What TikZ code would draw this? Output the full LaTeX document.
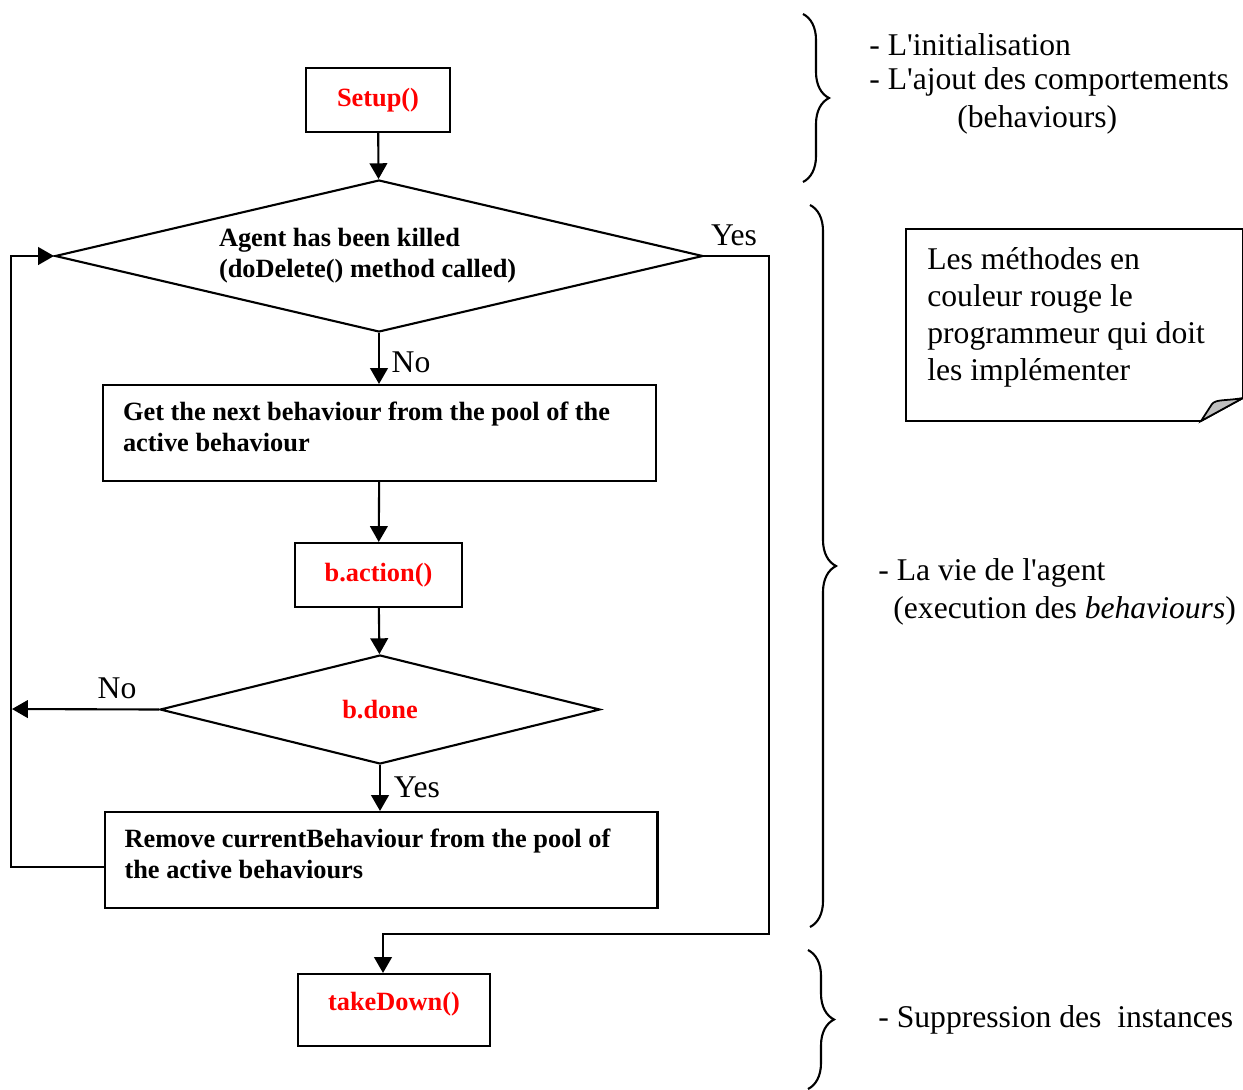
\documentclass[tikz,border=0pt]{standalone}
\usepackage{fontspec}
\setmainfont{Liberation Serif}
\usetikzlibrary{shapes.geometric,arrows.meta,decorations.pathreplacing}

\begin{document}
\begin{tikzpicture}[x=0.02cm,y=-0.02cm,
box/.style={rectangle, draw=black, line width=1.2pt, inner sep=0pt, font=\fontsize{15}{17.6}\selectfont\bfseries},
wbox/.style={box, inner xsep=0.4cm, align=flush left, text width=10.26cm, text depth=0.86cm, minimum height=1.92cm},
dec/.style={diamond, draw=black, line width=1.2pt, inner sep=0pt, font=\fontsize{15}{17.6}\selectfont\bfseries},
meth/.style={text=red},
arr/.style={line width=1.2pt, -{Triangle[length=9pt,width=10pt]}},
lbl/.style={inner sep=0pt, font=\fontsize{18}{21}\selectfont},
brc/.style={decorate, decoration={brace,amplitude=0.52cm}, line width=1.2pt}
]
    \useasboundingbox (0,0) rectangle (1243,1089);

    % flowchart
    \node [box,meth,minimum width=2.88cm,minimum height=1.28cm] (setup) at (378,100) {Setup()};
    \node [dec,aspect=4.26,minimum width=12.96cm,minimum height=3.04cm,align=flush left,text width=6.4cm] (kill) at (379,256) {Agent has been killed\\(doDelete() method called)};
    \node [wbox,minimum width=11.06cm] (getb) at (379.5,433) {Get the next behaviour from the pool of the active behaviour};
    \node [box,meth,minimum width=3.34cm,minimum height=1.28cm] (act) at (378.5,575) {b.action()};
    \node [dec,meth,aspect=4.04,minimum width=8.8cm,minimum height=2.18cm] (done) at (380,709.5) {b.done};
    \node [wbox,minimum width=11.04cm] (rem) at (381,860) {Remove currentBehaviour from the pool of the active behaviours};
    \node [box,meth,minimum width=3.84cm,minimum height=1.44cm,text depth=0.35cm] (tdown) at (394,1010) {takeDown()};

    \coordinate (yesc) at (769,934);
    \coordinate (loopc) at (11,867);
    \coordinate (noend) at (12,709);

    \draw [arr] (setup) -- (kill);
    \draw [arr] (kill.south) -- (kill.south |- getb.north);
    \draw [arr] (getb) -- (act);
    \draw [arr] (act) -- (done);
    \draw [arr] (done.south) -- (done.south |- rem.north);
    \draw [arr] (done.west) -- (noend);
    \draw [arr] (loopc -| rem.west) -- (loopc) |- (kill.west);
    \draw [arr] (kill.east) -| (yesc) -| ([xshift=-0.22cm]tdown.north);

    \node [lbl] (no1) at (411,362) {No};
    \node [lbl] (yes1) at (734,235) {Yes};
    \node [lbl] (no2) at (117,688) {No};
    \node [lbl] (yes2) at (417,787) {Yes};

    % braces and comments
    \draw [brc] (803,14) -- (803,182);
    \draw [brc] (810,205) -- (810,927);
    \draw [brc] (808,950) -- (808,1089);

    \node [lbl,anchor=west] (t1) at (869,45) {- L\textquotesingle initialisation};
    \node [lbl,anchor=west] (t2) at (869,82) {- L\textquotesingle ajout des comportements};
    \node [lbl,anchor=west] (t3) at (957,120) {(behaviours)};
    \node [lbl,anchor=west] (t4) at (878,573) {- La vie de l\textquotesingle agent};
    \node [lbl,anchor=west] (t5) at (893,611) {(execution des \textit{behaviours})};
    \node [lbl,anchor=west] (t6) at (878,1020) {- Suppression des\ \ instances};

    % note with folded corner
    \draw [line width=1pt] (906,229) -- (1243,229) -- (1243,398) -- (1201,421) -- (906,421) -- cycle;
    \filldraw [fill=black!25, line width=1pt] (1201,421) -- (1212,404) .. controls (1216,399) and (1226,401) .. (1243,398) -- cycle;
    \node [lbl,anchor=north west,align=left] (note) at (927,247) {Les méthodes en\\couleur rouge le\\programmeur qui doit\\les implémenter};

\end{tikzpicture}
\end{document}
